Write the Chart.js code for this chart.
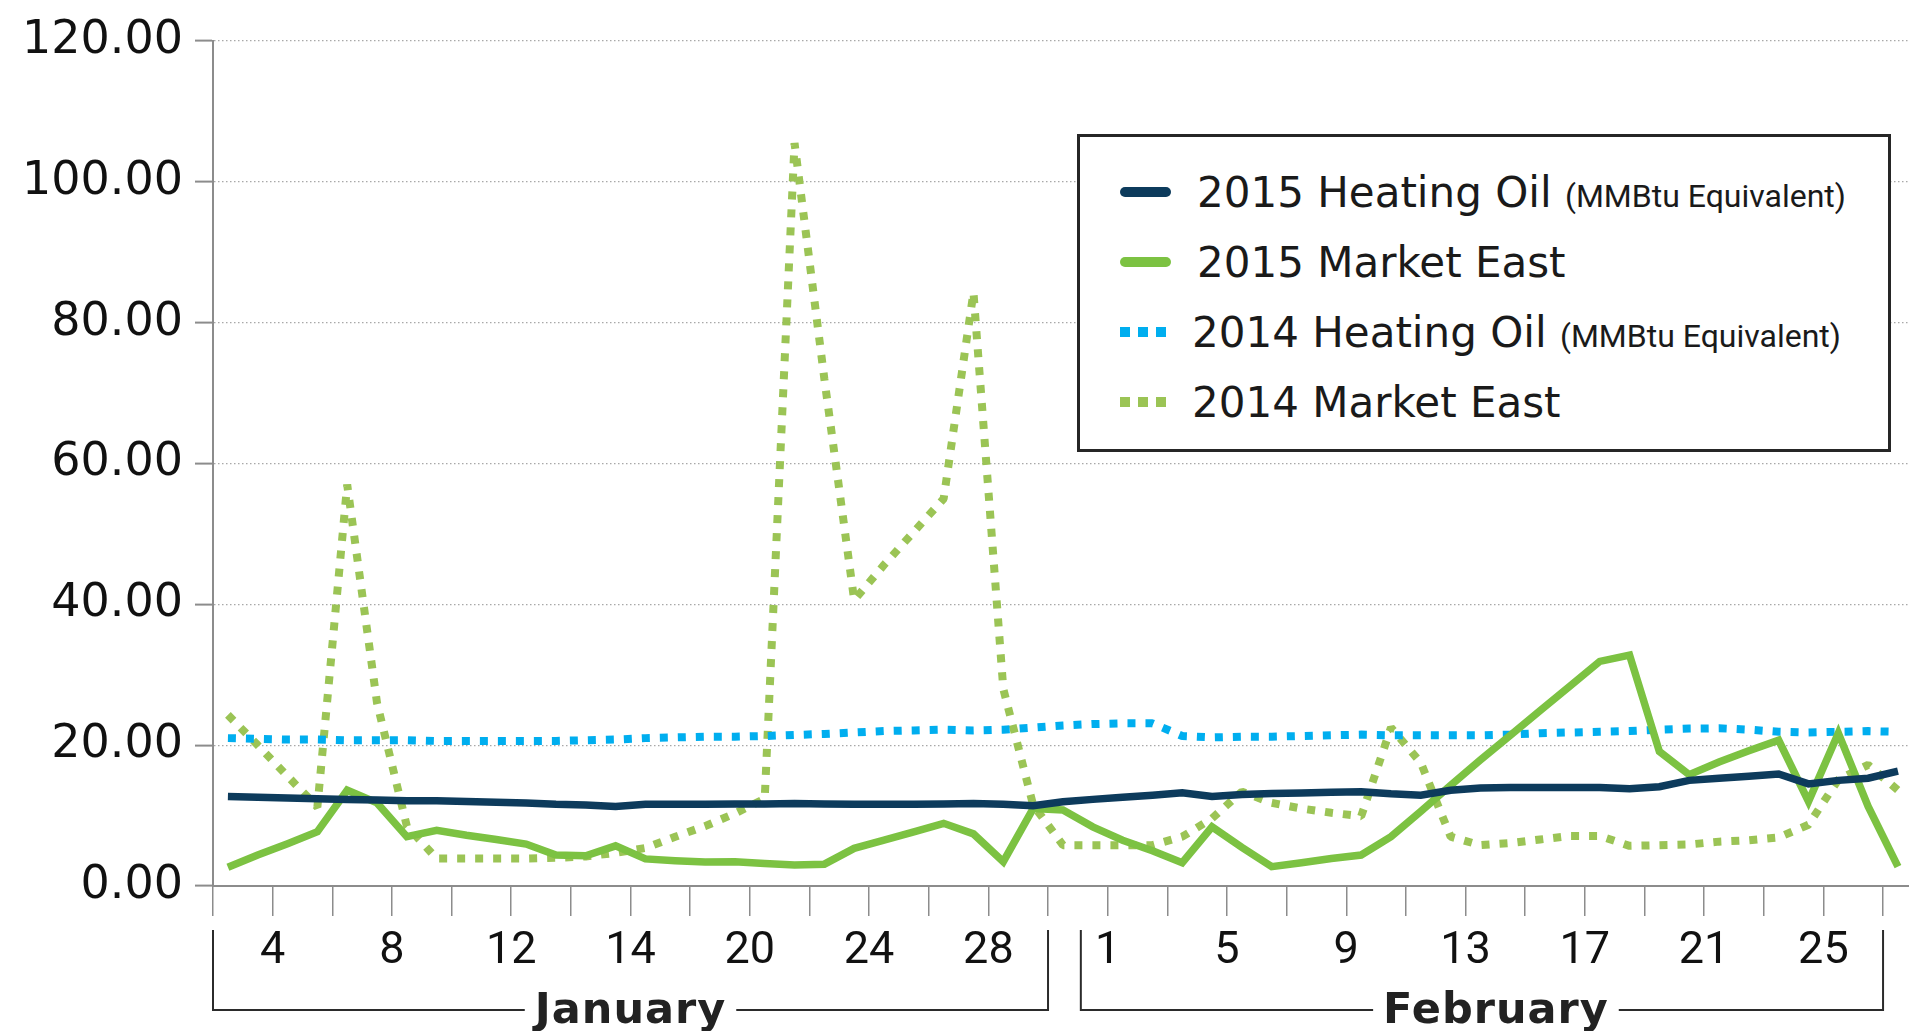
<!DOCTYPE html>
<html>
<head>
<meta charset="utf-8">
<script src="https://cdn.jsdelivr.net/npm/chart.js@4.4.1/dist/chart.umd.min.js"></script>
<style>
  html, body { margin: 0; padding: 0; background: #fff; }
  #wrap { position: relative; width: 1909px; height: 1031px; overflow: hidden; }
  #legend {
    position: absolute; left: 1077px; top: 134px; width: 814px; height: 318px;
    box-sizing: border-box; border: 3px solid #262626; background: #fff; padding-top: 20px;
  }
  .row { display: flex; align-items: center; height: 70px; }
  .swatch { width: 51px; height: 10px; margin-left: 40px; margin-right: 26px; flex: none; }
  .label { font-family: 'DejaVu Sans'; font-size: 42px; color: #1a1a1a; white-space: nowrap; }
  .label small { font-family: Roboto; font-size: 32px; }
</style>
</head>
<body>
<div id="wrap">
  <canvas id="priceChart" width="1909" height="1031"></canvas>
  <div id="legend"></div>
</div>
<script>
// x axis: one slot per day, labels sit on every other tick
const tickLabels = ['4', '8', '12', '14', '20', '24', '28', '1', '5', '9', '13', '17', '21', '25'];
const months = ['January', 'February'];
const monthSpans = [[0, 28], [29.1, 56]];

const heatingOil2015 = [
  12.7, 12.6, 12.5, 12.4, 12.3, 12.2, 12.1, 12.1, 12.0, 11.9, 11.8, 11.6, 11.5, 11.3, 11.6, 11.6, 11.6,
  11.65, 11.65, 11.7, 11.65, 11.6, 11.6, 11.6, 11.65, 11.7, 11.6, 11.4, 11.95, 12.3, 12.6, 12.9, 13.25, 12.7,
  13.0, 13.15, 13.2, 13.3, 13.4, 13.1, 12.9, 13.6, 13.9, 14.0, 14.0, 14.0, 14.0, 13.8, 14.1, 15.0, 15.3,
  15.6, 15.9, 14.5, 15.0, 15.3, 16.3
];
const marketEast2015 = [
  2.65, 4.4, 6.0, 7.7, 13.6, 11.8, 7.0, 7.9, 7.2, 6.6, 5.95, 4.4, 4.3, 5.7, 3.85, 3.6, 3.4,
  3.45, 3.2, 3.0, 3.1, 5.35, 6.5, 7.7, 8.9, 7.4, 3.45, 11.0, 10.8, 8.4, 6.5, 5.0, 3.3, 8.4,
  5.5, 2.75, 3.3, 3.9, 4.4, 7.0, 10.6, 14.3, 17.9, 21.4, 24.9, 28.4, 31.9, 32.8, 19.1, 15.8, 17.6,
  19.2, 20.7, 12.0, 21.7, 11.3, 2.75
];
const heatingOil2014 = [
  21.0, 20.9, 20.8, 20.8, 20.7, 20.7, 20.7, 20.6, 20.6, 20.6, 20.6, 20.6, 20.7, 20.8, 21.0, 21.1, 21.2,
  21.2, 21.3, 21.45, 21.6, 21.8, 22.0, 22.1, 22.2, 22.1, 22.2, 22.5, 22.8, 23.0, 23.1, 23.1, 21.3, 21.1,
  21.2, 21.2, 21.3, 21.4, 21.5, 21.4, 21.4, 21.4, 21.4, 21.5, 21.7, 21.8, 21.9, 22.0, 22.2, 22.35, 22.4,
  22.2, 21.9, 21.8, 21.9, 22.0, 21.9
];
const marketEast2014 = [
  24.3, 20.0, 15.6, 11.2, 57.0, 26.0, 8.5, 3.9, 3.9, 3.9, 3.9, 4.0, 4.2, 4.7, 5.4, 7.0, 8.5,
  10.3, 12.4, 105.5, 72.0, 40.6, 45.6, 50.3, 55.0, 84.3, 28.0, 11.5, 5.8, 5.8, 5.8, 5.8, 7.0, 9.6,
  13.4, 11.8, 11.0, 10.4, 9.9, 22.5, 17.5, 7.0, 5.8, 6.1, 6.6, 7.1, 7.1, 5.7, 5.8, 5.9, 6.3,
  6.5, 6.9, 8.7, 15.1, 17.2, 13.6
];

const toPoints = arr => arr.map((v, i) => ({ x: i + 0.5, y: v }));

const series = [
  { label: '2015 Heating Oil', note: '(MMBtu Equivalent)', data: heatingOil2015, color: '#0d3b5c', dotted: false },
  { label: '2015 Market East', note: '', data: marketEast2015, color: '#7cc242', dotted: false },
  { label: '2014 Heating Oil', note: '(MMBtu Equivalent)', data: heatingOil2014, color: '#00aeef', dotted: true },
  { label: '2014 Market East', note: '', data: marketEast2014, color: '#9bc455', dotted: true }
];

const datasets = series.map(s => ({
  label: s.label,
  data: toPoints(s.data),
  borderColor: s.color,
  backgroundColor: s.color,
  borderWidth: s.dotted ? 8 : 7.5,
  borderDash: s.dotted ? [8, 10] : [],
  borderJoinStyle: s.dotted ? 'bevel' : 'miter',
  pointRadius: 0,
  tension: 0,
  fill: false,
  // dotted series sit behind the solid ones
  order: s.dotted ? 2 : 1
}));

const bracketPlugin = {
  id: 'monthBrackets',
  afterDraw(chart) {
    const { ctx, scales: { x } } = chart;
    const lineY = 1010, topY = 930;
    ctx.save();
    ctx.strokeStyle = '#2b2b2b';
    ctx.lineWidth = 2;
    ctx.fillStyle = '#222';
    ctx.font = 'bold 43px "DejaVu Sans"';
    ctx.letterSpacing = '1px';
    ctx.textAlign = 'center';
    ctx.textBaseline = 'middle';
    months.forEach((name, m) => {
      const x1 = x.getPixelForValue(monthSpans[m][0]);
      const x2 = x.getPixelForValue(monthSpans[m][1]);
      const cx = (x1 + x2) / 2 + (m === 1 ? 14 : 0);
      const half = ctx.measureText(name).width / 2 + 10;
      ctx.beginPath();
      ctx.moveTo(x1, topY);
      ctx.lineTo(x1, lineY);
      ctx.lineTo(cx - half, lineY);
      ctx.moveTo(cx + half, lineY);
      ctx.lineTo(x2, lineY);
      ctx.lineTo(x2, topY);
      ctx.stroke();
      ctx.fillText(name, cx, lineY + 2);
    });
    ctx.restore();
  }
};

const ctx = document.getElementById('priceChart').getContext('2d');
const priceChart = new Chart(ctx, {
  type: 'line',
  data: { datasets },
  plugins: [bracketPlugin],
  options: {
    responsive: false,
    animation: false,
    devicePixelRatio: 1,
    layout: { padding: { top: 41, left: 0, right: 0, bottom: 0 } },
    plugins: { legend: { display: false }, tooltip: { enabled: false } },
    scales: {
      x: {
        type: 'linear',
        min: 0,
        max: 56.87,
        afterBuildTicks: axis => {
          const ticks = [];
          for (let v = 0; v <= 56; v += 2) ticks.push({ value: v });
          axis.ticks = ticks;
        },
        afterFit: axis => { axis.height = 145; },
        grid: { drawOnChartArea: false, tickLength: 30, color: '#8c8c8c', lineWidth: 1.5 },
        border: { color: '#8c8c8c', width: 2 },
        ticks: {
          autoSkip: false,
          maxRotation: 0,
          padding: 9,
          color: '#111',
          font: { family: 'Roboto', size: 45 },
          callback: (value, index) => (index % 2 === 1 ? tickLabels[(index - 1) / 2] : '')
        }
      },
      y: {
        min: 0,
        max: 120,
        afterFit: axis => { axis.width = 213; },
        grid: {
          color: c => (c.tick && c.tick.value === 0 ? 'rgba(0,0,0,0)' : '#a8a8a8'),
          lineWidth: 1.2,
          tickLength: 18,
          tickColor: '#8c8c8c',
          tickWidth: 2
        },
        border: { color: '#8c8c8c', width: 2, dash: [1.5, 2.5] },
        ticks: {
          stepSize: 20,
          padding: 12,
          color: '#111',
          font: { family: 'DejaVu Sans', size: 46 },
          callback: v => v.toFixed(2)
        }
      }
    }
  }
});

// legend box built from the series list
const legendEl = document.getElementById('legend');
series.forEach(s => {
  const row = document.createElement('div');
  row.className = 'row';
  const sw = document.createElement('div');
  sw.className = 'swatch';
  if (s.dotted) {
    sw.style.width = '46px';
    sw.style.background = `repeating-linear-gradient(to right, ${s.color} 0 10px, transparent 10px 18px)`;
  } else {
    sw.style.background = s.color;
    sw.style.borderRadius = '5px';
  }
  const lab = document.createElement('div');
  lab.className = 'label';
  lab.textContent = s.label + (s.note ? ' ' : '');
  if (s.note) {
    const sm = document.createElement('small');
    sm.textContent = s.note;
    lab.appendChild(sm);
  }
  row.appendChild(sw);
  row.appendChild(lab);
  legendEl.appendChild(row);
});
</script>
</body>
</html>
